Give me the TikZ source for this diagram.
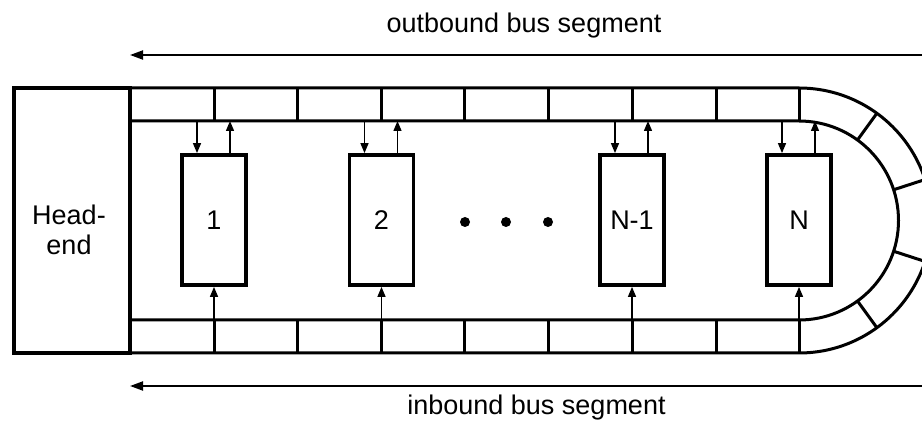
\documentclass[tikz,border=0pt]{standalone}
\usepackage{fontspec}
\setmainfont{Liberation Sans}
\usetikzlibrary{arrows.meta}
\begin{document}
\begin{tikzpicture}[x=1pt,y=1pt,
  bus/.style={line width=3pt},
  station/.style={draw, line width=3.8pt, minimum width=64pt, minimum height=130pt, inner sep=0pt, font=\fontsize{27}{30}\selectfont},
  sarrow/.style={line width=1.4pt, -{Triangle[length=10pt,width=8pt]}},
  barrow/.style={line width=2pt, -{Triangle[length=13pt,width=9pt]}},
  lbl/.style={font=\fontsize{27}{30}\selectfont, anchor=base},
  dot/.style={circle, fill, minimum size=10pt, inner sep=0pt}]
\useasboundingbox (0,0) rectangle (922,426);
\clip (0,0) rectangle (922,426);

% head-end
\node[draw, line width=4pt, minimum width=116pt, minimum height=265pt, inner sep=0pt] (head) at (72,205.5) {};
\node[font=\fontsize{27}{30}\selectfont, align=center, inner sep=0pt] (headtxt) at (69,196) {Head-\\end};

% bus ring
\coordinate (c) at (799,205.5);
\draw[bus] (130,338) -- (799,338) arc[start angle=90,end angle=-90,radius=132.5] -- (130,73);
\draw[bus] (130,305) -- (799,305) arc[start angle=90,end angle=-90,radius=99.5] -- (130,106);
\foreach \x in {214,297,381,464,548,632,716,799} {
  \draw[bus] (\x,305) -- (\x,338);
  \draw[bus] (\x,73) -- (\x,106);
}
\foreach \a in {54,18,-18,-54} \draw[bus,shift={(c)}] (\a:99.5) -- (\a:132.5);

% stations
\node[station] (n1) at (214,206) {1};
\node[station] (n2) at (381.5,206) {2};
\node[station] (n3) at (632,206) {N-1};
\node[station] (n4) at (799,206) {N};

\node[dot] (d1) at (465,204) {};
\node[dot] (d2) at (506,204) {};
\node[dot] (d3) at (548,204) {};

% taps
\coordinate (obus) at (0,305);
\coordinate (ibus) at (0,106);
\foreach \n in {n1,n2,n3,n4} {
  \draw[sarrow] ([xshift=-17pt]\n.north |- obus) -- ([xshift=-17pt]\n.north);
  \draw[sarrow] ([xshift=16pt]\n.north) -- ([xshift=16pt]\n.north |- obus);
  \draw[sarrow] (\n.south |- ibus) -- (\n.south);
}

% direction arrows
\coordinate (oR) at (925,371);
\coordinate (oL) at (130,371);
\coordinate (iR) at (925,40);
\coordinate (iL) at (130,40);
\draw[barrow] (oR) -- (oL);
\draw[barrow] (iR) -- (iL);

\node[lbl] (out) at (524,393) {outbound bus segment};
\node[lbl] (in) at (536.5,11) {inbound bus segment};
\end{tikzpicture}
\end{document}
